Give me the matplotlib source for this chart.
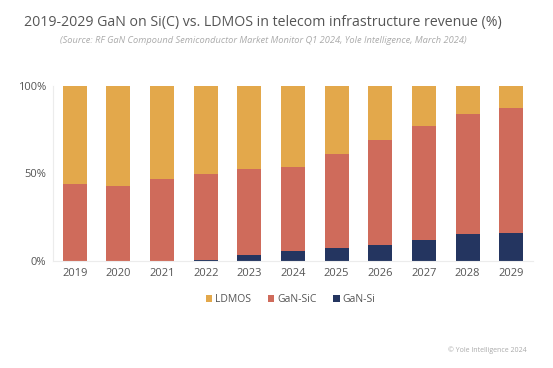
import matplotlib
matplotlib.use("Agg")
import matplotlib.pyplot as plt
import numpy as np

# data (percent of revenue)
years = ["2019", "2020", "2021", "2022", "2023", "2024", "2025", "2026", "2027", "2028", "2029"]
gan_si = [0.0, 0.2, 0.2, 0.6, 3.6, 5.9, 7.4, 9.3, 11.8, 15.2, 15.8]
gan_sic_top = [43.8, 42.9, 47.0, 49.7, 52.6, 53.9, 61.1, 69.1, 77.3, 84.0, 87.4]

gan_si = np.array(gan_si)
gan_sic = np.array(gan_sic_top) - gan_si
ldmos = 100 - gan_si - gan_sic

c_ld = "#E3A84B"
c_sic = "#CF6B5B"
c_si = "#243560"

plt.rcParams['font.family'] = ['Open Sans', 'DejaVu Sans']

fig = plt.figure(figsize=(5.53, 3.68), dpi=100)
ax = fig.add_axes([0.0958, 0.2908, 0.868, 0.4755])

x = np.arange(len(years))
w = 0.55
ax.bar(x, gan_si, w, color=c_si, label="GaN-Si")
ax.bar(x, gan_sic, w, bottom=gan_si, color=c_sic, label="GaN-SiC")
ax.bar(x, ldmos, w, bottom=gan_si + gan_sic, color=c_ld, label="LDMOS")

ax.set_xlim(-0.5, len(years) - 0.5)
ax.set_ylim(0, 100)
ax.set_yticks([0, 50, 100])
ax.set_yticklabels(["0%", "50%", "100%"])
ax.set_xticks(x)
ax.set_xticklabels(years)
ax.tick_params(length=0, labelsize=8, colors="#555555", pad=5)
for s in ["top", "right"]:
    ax.spines[s].set_visible(False)
for s in ["left", "bottom"]:
    ax.spines[s].set_color("#ececec")
    ax.spines[s].set_linewidth(0.8)

h, l = ax.get_legend_handles_labels()
fig.legend(h[::-1], l[::-1], loc="center", bbox_to_anchor=(0.526, 0.186), ncol=3,
           frameon=False, fontsize=7.5, handlelength=0.6, handleheight=0.6,
           handletextpad=0.3, columnspacing=1.6, labelcolor="#555555")

fig.text(0.476, 0.94, "2019-2029 GaN on Si(C) vs. LDMOS in telecom infrastructure revenue (%)",
         ha="center", va="center", fontsize=10.2, color="#555555")
fig.text(0.476, 0.89, "(Source: RF GaN Compound Semiconductor Market Monitor Q1 2024, Yole Intelligence, March 2024)",
         ha="center", va="center", fontsize=6.7, color="#aaaaaa", style="italic")
fig.text(0.952, 0.048, "© Yole Intelligence 2024", ha="right", va="center",
         fontsize=5, color="#aaaaaa")

fig.savefig("out.png", dpi=100)
